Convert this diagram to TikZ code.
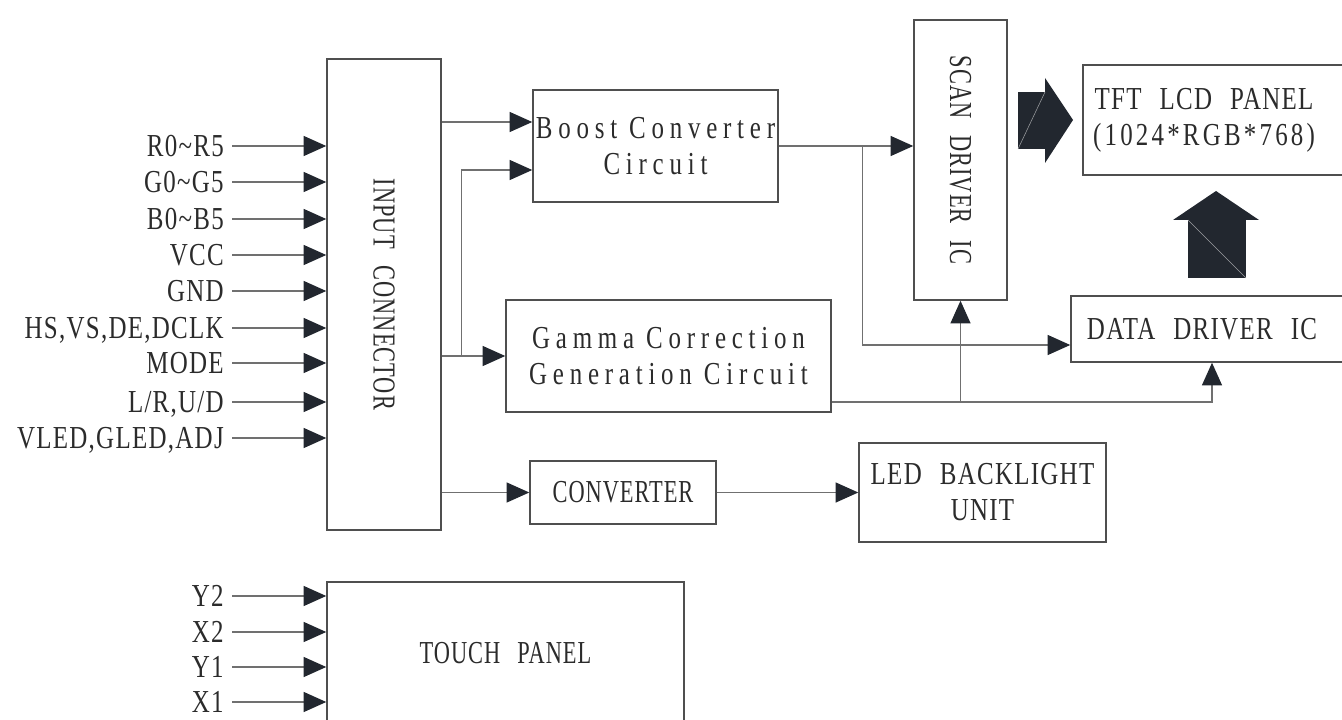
\documentclass[tikz,border=0pt]{standalone}
\usepackage{fontspec}
\setmainfont{Liberation Serif}[FakeStretch=0.78, LetterSpace=4, WordSpace=2.4]
\newfontfamily\widefont{Liberation Serif}[FakeStretch=0.78, LetterSpace=18]
\newfontfamily\midfont{Liberation Serif}[FakeStretch=0.78, LetterSpace=10]
\newfontfamily\narrowfont{Liberation Serif}[FakeStretch=0.7, LetterSpace=3, WordSpace=2.6]
\usetikzlibrary{arrows.meta, calc}
\definecolor{tipcol}{HTML}{22272F}
\definecolor{wirecol}{HTML}{707070}
\definecolor{edgecol}{HTML}{4F4F4F}
\definecolor{textcol}{HTML}{2B2B2B}

\begin{document}
\begin{tikzpicture}[
    x=0.75pt, y=-0.75pt,
    font=\fontsize{24}{27}\selectfont,
    box/.style={rectangle, draw=edgecol, line width=1.1pt, align=center, inner sep=0pt, text=textcol},
    widetext/.style={font=\fontsize{24}{27}\selectfont\widefont},
    narrowtext/.style={font=\fontsize{24}{27}\selectfont\narrowfont},
    sig/.style={draw=wirecol, line width=1pt, -{Triangle[length=17pt, width=15pt, color=tipcol]}},
    pin/.style={anchor=east, inner sep=0pt, text height=15.9pt, text depth=0pt, text=textcol},
    pinwire/.style={sig, shorten <=6pt}
  ]
    \useasboundingbox (0,0) rectangle (1342,720);

    % blocks
    \node[box, narrowtext, minimum width=85.5pt, minimum height=353.25pt] (inp) at (384,294.5) {\rotatebox{-90}{INPUT CONNECTOR}};
    \node[box, widetext, minimum width=183.75pt, minimum height=84pt] (boost) at (655.5,146) {Boost Converter\\Circuit};
    \node[box, widetext, minimum width=243.75pt, minimum height=84pt] (gamma) at (668.5,356) {Gamma Correction\\Generation Circuit};
    \node[box, narrowtext, minimum width=139.5pt, minimum height=47.25pt] (conv) at (623,492.5) {CONVERTER};
    \node[box, minimum width=185.25pt, minimum height=74.25pt] (led) at (982.5,492.5) {LED BACKLIGHT\\UNIT};
    \node[box, narrowtext, minimum width=69.75pt, minimum height=210pt] (scan) at (960.5,160) {\rotatebox{-90}{SCAN DRIVER IC}};
    \node[box, minimum width=196.5pt, minimum height=82.5pt] (tft) at (1214,120) {TFT LCD PANEL\rule{15pt}{0pt}\\{\midfont (1024*RGB*768)}\rule{15pt}{0pt}};
    \node[box, minimum width=211.5pt, minimum height=49.5pt] (data) at (1212,329) {DATA DRIVER IC\rule{15pt}{0pt}};
    \node[box, narrowtext, minimum width=267.75pt, minimum height=106.5pt] (touch) at (505.5,653) {TOUCH PANEL};

    % input pins
    \node[pin] (r) at (224,146) {R0\textasciitilde R5};
    \node[pin] (g) at (224,182) {G0\textasciitilde G5};
    \node[pin] (b) at (224,219) {B0\textasciitilde B5};
    \node[pin] (vcc) at (224,255) {VCC};
    \node[pin] (gnd) at (224,291) {GND};
    \node[pin] (sync) at (224,328) {HS,VS,DE,DCLK};
    \node[pin] (mode) at (224,363) {MODE};
    \node[pin] (dir) at (224,402) {L/R,U/D};
    \node[pin] (bl) at (224,438) {VLED,GLED,ADJ};
    \draw[pinwire] (r.east) -- (r.east -| inp.west);
    \draw[pinwire] (g.east) -- (g.east -| inp.west);
    \draw[pinwire] (b.east) -- (b.east -| inp.west);
    \draw[pinwire] (vcc.east) -- (vcc.east -| inp.west);
    \draw[pinwire] (gnd.east) -- (gnd.east -| inp.west);
    \draw[pinwire] (sync.east) -- (sync.east -| inp.west);
    \draw[pinwire] (mode.east) -- (mode.east -| inp.west);
    \draw[pinwire] (dir.east) -- (dir.east -| inp.west);
    \draw[pinwire] (bl.east) -- (bl.east -| inp.west);

    % touch pins
    \node[pin] (y2) at (224,596) {Y2};
    \node[pin] (x2) at (224,632) {X2};
    \node[pin] (y1) at (224,667) {Y1};
    \node[pin] (x1) at (224,702) {X1};
    \draw[pinwire] (y2.east) -- (y2.east -| touch.west);
    \draw[pinwire] (x2.east) -- (x2.east -| touch.west);
    \draw[pinwire] (y1.east) -- (y1.east -| touch.west);
    \draw[pinwire] (x1.east) -- (x1.east -| touch.west);

    % internal wiring
    \coordinate (bin1) at ($(boost.west)+(0,-24)$);
    \coordinate (bin2) at ($(boost.west)+(0,24)$);
    \coordinate (split) at ($(inp.east |- gamma.west)+(20,0)$);
    \coordinate (tap) at ($(boost.east)+(84,0)$);
    \coordinate (din) at ($(data.west)+(0,16)$);
    \coordinate (gout) at ($(gamma.east)+(0,46)$);

    \draw[sig] (inp.east |- bin1) -- (bin1);
    \draw[sig] (split) |- (bin2);
    \draw[sig] (inp.east |- gamma.west) -- (gamma.west);
    \draw[sig] (inp.east |- conv.west) -- (conv.west);
    \draw[sig] (conv) -- (led);
    \draw[sig] (boost.east) -- (boost.east -| scan.west);
    \draw[sig] (tap) |- (din);
    \draw[sig] (gout) -| (data.south);
    \draw[sig] (scan.south |- gout) -- (scan.south);

    % block arrows into the panel
    \fill[tipcol] (1018,92) rectangle (1045,149);
    \fill[tipcol] (1045,78) -- (1073,120) -- (1045,163) -- cycle;
    \draw[white!55!tipcol, line width=0.4pt] (1018,149) -- (1045,92);
    \fill[tipcol] (1188,220) rectangle (1246,278);
    \fill[tipcol] (1173,220) -- (1216,191) -- (1259,220) -- cycle;
    \draw[white!55!tipcol, line width=0.4pt] (1188,220) -- (1246,278);
  \end{tikzpicture}
\end{document}
